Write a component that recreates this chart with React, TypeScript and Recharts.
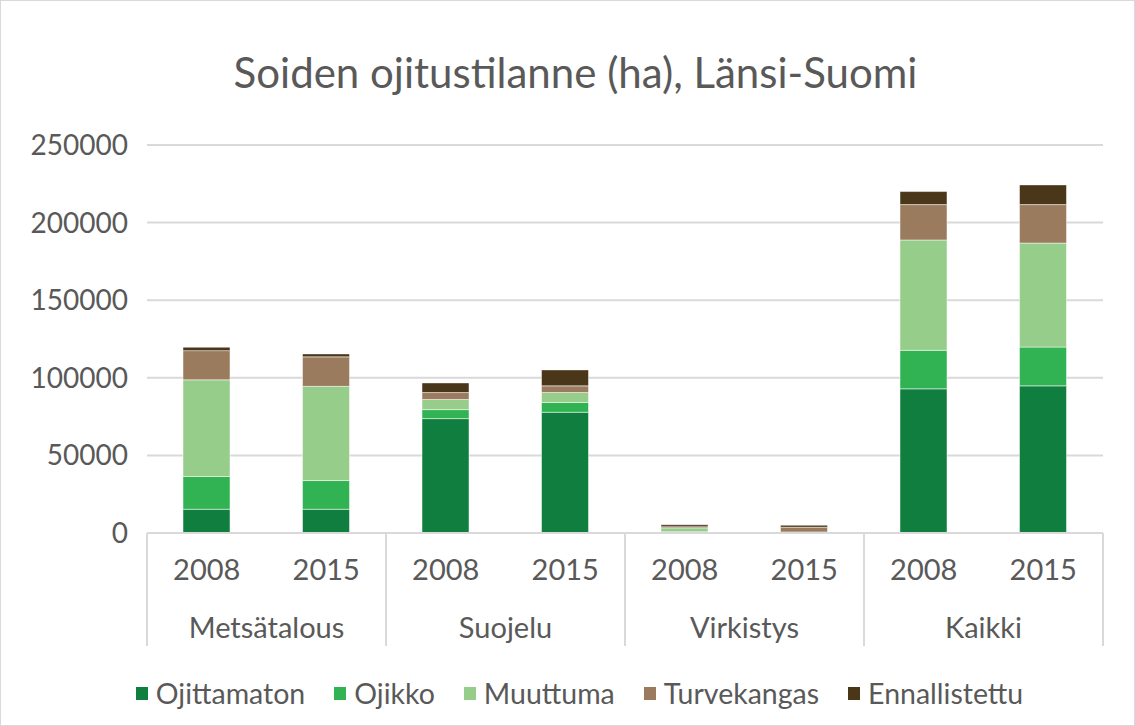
import React from "react"
import { Bar, BarChart, CartesianGrid, Legend, XAxis, YAxis } from "recharts"

// chart data (hectares)
const groups = ["Metsätalous", "Suojelu", "Virkistys", "Kaikki"]
const years = ["2008", "2015"]
const yTicks = [0, 50000, 100000, 150000, 200000, 250000]

const ojittamaton = [15300, 15300, 73700, 77800, 500, 300, 92900, 94800]
const ojikko = [21100, 18500, 5800, 6300, 300, 100, 24800, 25000]
const muuttuma = [62300, 60700, 6500, 6400, 2500, 300, 71100, 67000]
const turvekangas = [18800, 19000, 4500, 4300, 700, 3000, 22800, 24800]
const ennallistettu = [2200, 1900, 6200, 10300, 1300, 1300, 8400, 12700]

const seriesNames = ["Ojittamaton", "Ojikko", "Muuttuma", "Turvekangas", "Ennallistettu"]
const seriesColors = ["#0f7e3f", "#31b353", "#97cd8b", "#9a7b5d", "#4a3719"]
const seriesValues = [ojittamaton, ojikko, muuttuma, turvekangas, ennallistettu]

const W = 1135
const H = 726
const Y_AXIS_W = 147
const RIGHT = 32
const TOP = 145
const PLOT_BOTTOM = 533
const BAND = (W - Y_AXIS_W - RIGHT) / (groups.length * years.length)
const TEXT = "#595959"
const GRID = "#d9d9d9"
const FONT = "Lato, 'Noto Sans', sans-serif"

interface Row {
  key: string
  group: string
  year: string
  [series: string]: string | number
}

const data: Row[] = []
groups.forEach((group, gi) => {
  years.forEach((year, yi) => {
    const i = gi * years.length + yi
    const row: Row = { key: `${group} ${year}`, group, year }
    seriesNames.forEach((name, si) => {
      row[name] = seriesValues[si][i]
    })
    data.push(row)
  })
})

function XTick(props: any) {
  const { x, payload } = props
  const i: number = payload.index
  const row = data[i]
  const isFirst = i % years.length === 0
  const isLast = i === data.length - 1
  return (
    <g>
      <text x={x} y={570} textAnchor="middle" dy="0.35em" fill={TEXT} fontSize={29} fontFamily={FONT}>
        {row.year}
      </text>
      {isFirst && (
        <>
          <line x1={x - BAND / 2} x2={x - BAND / 2} y1={PLOT_BOTTOM} y2={646} stroke={GRID} strokeWidth={2} />
          <text x={x + BAND / 2} y={628} textAnchor="middle" dy="0.35em" fill={TEXT} fontSize={29} fontFamily={FONT}>
            {row.group}
          </text>
        </>
      )}
      {isLast && (
        <line x1={x + BAND / 2} x2={x + BAND / 2} y1={PLOT_BOTTOM} y2={646} stroke={GRID} strokeWidth={2} />
      )}
    </g>
  )
}

function ChartLegend() {
  return (
    <div
      style={{
        display: "flex",
        justifyContent: "center",
        alignItems: "center",
        height: 50,
        paddingLeft: 56,
        fontFamily: FONT,
      }}
    >
      {seriesNames.map((name, i) => (
        <div key={name} style={{ display: "flex", alignItems: "center", marginRight: i < seriesNames.length - 1 ? 29 : 0 }}>
          <span style={{ display: "inline-block", width: 12, height: 13, background: seriesColors[i], marginRight: 8 }} />
          <span style={{ fontSize: 28.5, color: TEXT }}>{name}</span>
        </div>
      ))}
    </div>
  )
}

export default function App() {
  return (
    <div style={{ position: "absolute", left: 0, top: 0, width: W, height: H, background: "#fff", fontFamily: FONT }}>
      <div
        style={{
          position: "absolute",
          left: 8,
          top: 44,
          width: W,
          textAlign: "center",
          fontSize: 42,
          color: TEXT,
          lineHeight: "56px",
        }}
      >
        Soiden ojitustilanne (ha), Länsi-Suomi
      </div>
      <BarChart
        width={W}
        height={H}
        data={data}
        margin={{ top: TOP, right: RIGHT, left: 0, bottom: 8 }}
        barSize={47}
        style={{ position: "absolute", left: 0, top: 0 }}
      >
        <CartesianGrid vertical={false} stroke={GRID} strokeWidth={2} />
        <YAxis
          type="number"
          domain={[0, 250000]}
          ticks={yTicks}
          width={Y_AXIS_W}
          axisLine={false}
          tickLine={false}
          tickMargin={13}
          tick={{ fill: TEXT, fontSize: 28, fontFamily: FONT }}
          interval={0}
        />
        <XAxis
          dataKey="key"
          type="category"
          height={135}
          axisLine={{ stroke: GRID, strokeWidth: 2 }}
          tickLine={false}
          interval={0}
          tick={<XTick />}
        />
        <Legend verticalAlign="bottom" height={50} content={<ChartLegend />} />
        {seriesNames.map((name, i) => (
          <Bar
            key={name}
            dataKey={name}
            stackId="a"
            fill={seriesColors[i]}
            stroke="#ffffff"
            strokeWidth={0.8}
            strokeOpacity={0.6}
            isAnimationActive={false}
          />
        ))}
      </BarChart>
      <div
        style={{
          position: "absolute",
          left: 0,
          top: 0,
          width: W,
          height: H,
          boxSizing: "border-box",
          border: `1px solid ${GRID}`,
          pointerEvents: "none",
        }}
      />
    </div>
  )
}
